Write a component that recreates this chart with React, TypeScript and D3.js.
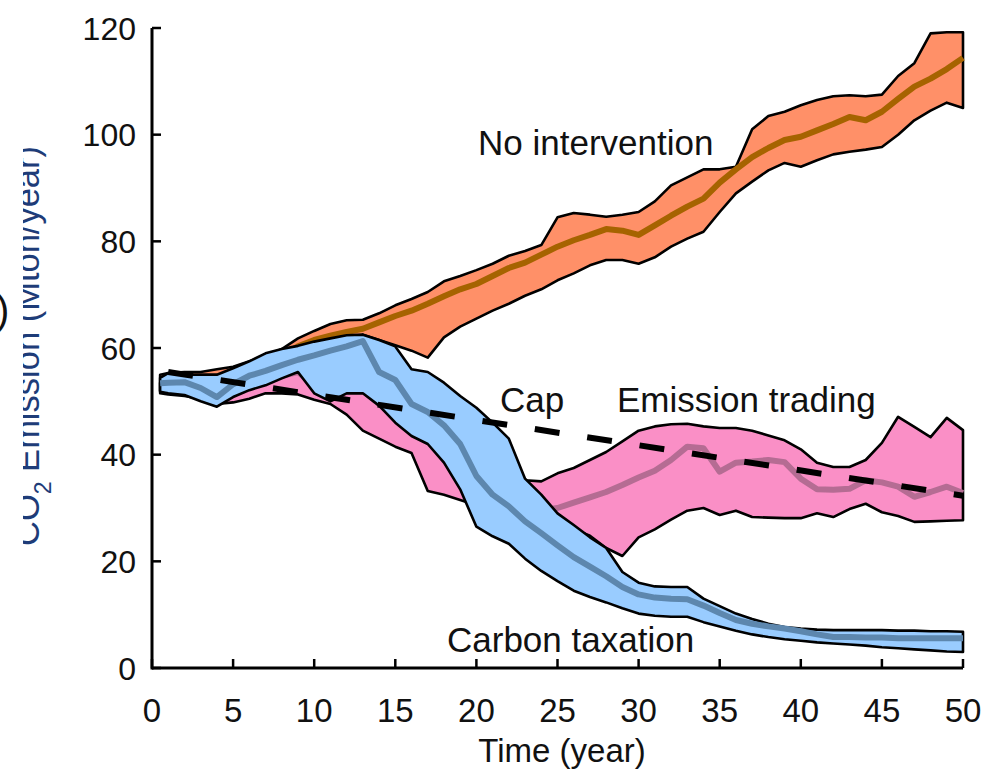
import React from "react";
import * as d3 from "d3";

// Time axis (years)
const years: number[] = [0.5, ...d3.range(1, 51)];

// No intervention (orange band)
const noIntLower = [52, 52, 52.2, 52.5, 53, 53.5, 54.3, 55.3, 56.5, 58, 59, 60, 61, 62.5, 61.5, 60.5, 59.5, 58.2, 62, 64, 65.5, 67, 68.3, 69.8, 71, 72.7, 74, 75.5, 76.5, 76.5, 75.8, 77, 79, 80.5, 81.8, 85.5, 89, 91.2, 93.3, 94.7, 94, 95.2, 96.3, 96.8, 97.2, 97.7, 100, 102.7, 104.5, 106, 105];
const noIntMedian = [53.5, 53.5, 53.7, 54, 54.5, 55, 56, 57, 58.5, 60.3, 61.5, 62.3, 63, 63.6, 64.8, 66, 67, 68.3, 69.7, 71, 72, 73.5, 75, 76, 77.5, 79, 80.2, 81.2, 82.3, 82, 81.2, 83, 84.8, 86.5, 88, 91, 93.5, 95.8, 97.5, 99, 99.6, 100.8, 102, 103.3, 102.7, 104.3, 106.7, 109, 110.5, 112.3, 114.4];
const noIntUpper = [55, 55.3, 55.5, 55.5, 56, 56.5, 57.5, 58.5, 59.8, 61.8, 63.2, 64.5, 65.2, 65.3, 66.5, 68, 69.2, 70.5, 72.5, 73.5, 74.6, 75.8, 77.3, 78.2, 79.3, 84.5, 85.3, 85, 84.6, 85, 85.5, 87.5, 90.5, 92, 93.5, 93.5, 94, 101, 103.5, 104.3, 105.5, 106.5, 107.2, 107.4, 107.2, 107.5, 111, 113.4, 119, 119.2, 119.2];

// Emission trading (pink band)
const tradeLower = [51.5, 51.3, 51, 50.5, 49.5, 49.8, 50.5, 51.5, 51.5, 51.3, 50.3, 49.5, 47.5, 44.5, 43, 41.5, 40.3, 33.2, 32.5, 31.5, 30.5, 29.5, 28.5, 28, 27.5, 27, 26, 24.8, 22.5, 21, 24.5, 26, 27.8, 29.5, 30, 28.7, 29.5, 28.3, 28.2, 28.1, 28.1, 29, 28.3, 29.8, 30.8, 29.2, 28.5, 27.4, 27.5, 27.6, 27.7];
const tradeMedian = [52.5, 52.5, 52.6, 52.8, 52.5, 52.5, 53, 54, 54.8, 55.5, 53, 52, 52.5, 52, 49.5, 47, 45, 43, 40, 37, 35, 33, 31.5, 30.3, 29.6, 30, 31, 32, 33, 34.3, 35.7, 37, 39, 41.5, 41.2, 36.8, 38.5, 38.7, 39, 38.6, 35.5, 33.5, 33.4, 33.6, 35.2, 34.8, 34, 32.1, 33, 34, 32.8];
const tradeUpper = [53.5, 54, 54.3, 54.5, 54.5, 55, 55.5, 56, 56, 55.5, 55, 54.5, 54.5, 53.5, 51, 49, 46, 44, 43, 41, 40, 38.5, 36.5, 35.2, 35, 36.5, 37.5, 39, 40.5, 42.5, 44.5, 45.3, 45.7, 45.8, 45.3, 45, 45, 44.5, 43.6, 42.7, 41, 38.5, 37.7, 37.7, 39, 42.2, 47.1, 45.2, 43.3, 46.9, 44.6];

// Carbon taxation (blue band)
const taxLower = [51.8, 51.5, 51.2, 50, 49, 50.8, 52.1, 53, 54.3, 55.5, 51.5, 50, 51.5, 51.5, 49.2, 46, 43.5, 42, 38.5, 33.5, 26.5, 24.7, 23.3, 20.5, 18.2, 16.3, 14.5, 13.3, 12.3, 11.2, 10.2, 9.8, 9.6, 9.6, 8.6, 7.8, 7, 6.3, 5.8, 5.4, 5.1, 4.8, 4.6, 4.4, 4.2, 3.9, 3.7, 3.5, 3.3, 3.1, 3];
const taxMedian = [53.4, 53.5, 53.6, 52.5, 50.8, 53.2, 54.8, 55.7, 56.8, 57.8, 58.6, 59.5, 60.3, 61.3, 55.5, 54, 49.5, 48, 45.5, 42, 36, 32.5, 30.3, 27.5, 25.3, 23, 20.8, 19, 17.2, 15.2, 13.8, 13.2, 13, 12.9, 11.7, 10.3, 9, 8.3, 7.8, 7.4, 6.9, 6.3, 5.8, 5.8, 5.7, 5.7, 5.6, 5.6, 5.6, 5.6, 5.6];
const taxUpper = [54.4, 55.3, 55, 55, 55, 56.2, 57.5, 59, 59.8, 60.4, 61.2, 61.8, 62.4, 62.5, 61.5, 60.3, 56, 55.5, 53.5, 51, 48.8, 46, 43, 35.5, 32.5, 29, 26.8, 24.5, 22.5, 18, 16, 15.3, 15.2, 15.2, 13, 11.6, 10.2, 9.2, 8.3, 7.7, 7.4, 7.2, 7.1, 7.1, 7.1, 7.1, 7, 7, 6.9, 6.9, 6.8];

// Cap (dashed line)
const capYears = [1, 50];
const capValues = [55.5, 32.3];

// Ticks
const xTicks = [0, 5, 10, 15, 20, 25, 30, 35, 40, 45, 50];
const yTicks = [0, 20, 40, 60, 80, 100, 120];

const W = 986;
const H = 775;
const FONT = "'Liberation Sans', Arial, Helvetica, sans-serif";

const x = d3.scaleLinear().domain([0, 50]).range([152, 963]);
const y = d3.scaleLinear().domain([0, 120]).range([668, 28]);

function bandPath(lower: number[], upper: number[]) {
  return d3
    .area<number>()
    .x((d) => x(d))
    .y0((_d, i) => y(lower[i]))
    .y1((_d, i) => y(upper[i]))
    .curve(d3.curveLinear)(years) as string;
}

function linePath(xs: number[], vals: number[]) {
  return d3
    .line<number>()
    .x((d) => x(d))
    .y((_d, i) => y(vals[i]))
    .curve(d3.curveLinear)(xs) as string;
}

export default function App() {
  const bandStroke = "#000";
  const bandSW = 2.6;
  const medSW = 6;
  return (
    <svg
      width={W}
      height={H}
      viewBox={`0 0 ${W} ${H}`}
      style={{ position: "absolute", left: 0, top: 0, background: "#fff" }}
    >
      <defs>
        <clipPath id="ylabclip">
          <rect x={23} y={0} width={120} height={H} />
        </clipPath>
      </defs>
      <rect x={0} y={0} width={W} height={H} fill="#fff" />

      {/* No intervention */}
      <path d={bandPath(noIntLower, noIntUpper)} fill="#FF9068" stroke={bandStroke} strokeWidth={bandSW} strokeLinejoin="round" />
      <path d={linePath(years, noIntMedian)} fill="none" stroke="#A66300" strokeWidth={medSW} strokeLinejoin="round" />

      {/* Emission trading */}
      <path d={bandPath(tradeLower, tradeUpper)} fill="#FA8FC6" stroke={bandStroke} strokeWidth={bandSW} strokeLinejoin="round" />
      <path d={linePath(years, tradeMedian)} fill="none" stroke="#B56C93" strokeWidth={medSW} strokeLinejoin="round" />

      {/* Carbon taxation */}
      <path d={bandPath(taxLower, taxUpper)} fill="#99CCFF" stroke={bandStroke} strokeWidth={bandSW} strokeLinejoin="round" />
      <path d={linePath(years, taxMedian)} fill="none" stroke="#5D87AE" strokeWidth={medSW} strokeLinejoin="round" />

      {/* Cap */}
      <path d={linePath(capYears, capValues)} fill="none" stroke="#000" strokeWidth={6} strokeDasharray="25 28" />

      {/* Axes */}
      <line x1={x(0)} x2={x(50)} y1={y(0)} y2={y(0)} stroke="#000" strokeWidth={3} />
      <line x1={x(0)} x2={x(0)} y1={y(0) + 1.5} y2={y(120)} stroke="#000" strokeWidth={3} />
      {xTicks.map((t) => (
        <g key={"xt" + t}>
          <line x1={x(t)} x2={x(t)} y1={y(0)} y2={y(0) - 9} stroke="#000" strokeWidth={2.5} />
          <text x={x(t)} y={722} textAnchor="middle" fontFamily={FONT} fontSize={33} fill="#111">
            {t}
          </text>
        </g>
      ))}
      {yTicks.map((t) => (
        <g key={"yt" + t}>
          <line x1={x(0)} x2={x(0) + 9} y1={y(t)} y2={y(t)} stroke="#000" strokeWidth={2.5} />
          <text x={136} y={y(t) + 11.5} textAnchor="end" fontFamily={FONT} fontSize={32} fill="#111">
            {t}
          </text>
        </g>
      ))}

      <text x={562} y={762} textAnchor="middle" fontFamily={FONT} fontSize={33} fill="#111">
        Time (year)
      </text>

      <g clipPath="url(#ylabclip)">
        <text transform="translate(39,346) rotate(-90)" textAnchor="middle" fontFamily={FONT} fontSize={34.5} fill="#1E3C78">
          CO<tspan dy={12} fontSize={23}>2</tspan>
          <tspan dy={-12}> Emission (Mton/year)</tspan>
        </text>
      </g>
      <text x={-4} y={324} fontFamily={FONT} fontSize={40} fill="#111">)</text>

      {/* Annotations */}
      <text x={478} y={155} fontFamily={FONT} fontSize={35} fill="#111">No intervention</text>
      <text x={500} y={412} fontFamily={FONT} fontSize={35} fill="#111">Cap</text>
      <text x={617} y={412} fontFamily={FONT} fontSize={35} fill="#111">Emission trading</text>
      <text x={447} y={652} fontFamily={FONT} fontSize={35} fill="#111">Carbon taxation</text>
    </svg>
  );
}
